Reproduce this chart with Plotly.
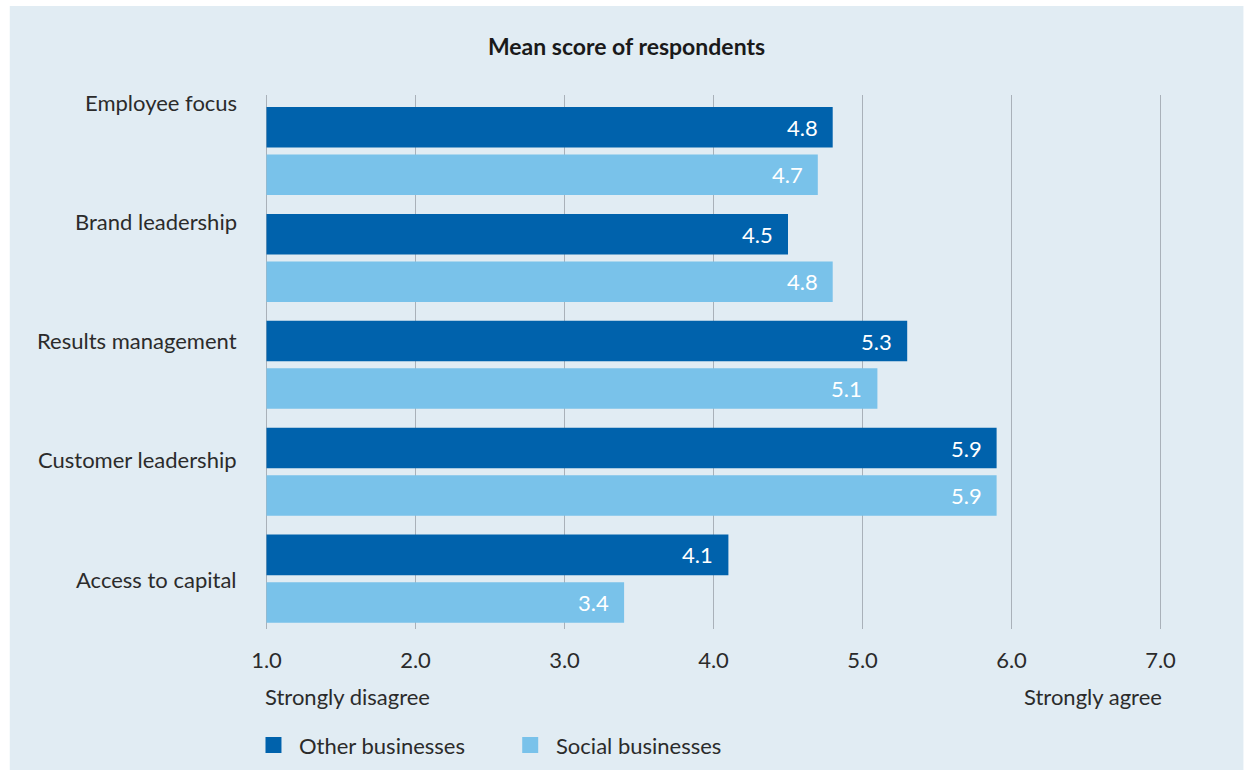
import plotly.graph_objects as go

# Survey dimensions (top to bottom) and mean scores on a 1-7 scale
categories = ["Employee focus", "Brand leadership", "Results management",
              "Customer leadership", "Access to capital"]
other_businesses = [4.8, 4.5, 5.3, 5.9, 4.1]
social_businesses = [4.7, 4.8, 5.1, 5.9, 3.4]
series_names = ["Other businesses", "Social businesses"]
x_ticks = [1, 2, 3, 4, 5, 6, 7]
x_tick_labels = ["1.0", "2.0", "3.0", "4.0", "5.0", "6.0", "7.0"]

DARK = "#0062ac"
LIGHT = "#79c2ea"
PANEL = "#e1ecf3"
GRID = "#a9b1b9"
TEXT = "#2b2b2b"
FONT = "Lato"

W, H = 1249, 770
PX_PER_UNIT = (1161 - 266) / 6
X_MIN, X_MAX = 0.99, 7.01
PLOT_L = 266 - (1 - X_MIN) * PX_PER_UNIT
PLOT_R = 1161 + (X_MAX - 7) * PX_PER_UNIT
PLOT_T, PLOT_B = 95, 629
PW = PLOT_R - PLOT_L
PH = PLOT_B - PLOT_T


def px_x(px):
    return (px - PLOT_L) / PW


def px_y(py):
    return (PLOT_B - py) / PH


pos = list(range(len(categories)))

fig = go.Figure()
fig.add_trace(go.Bar(y=pos, x=[v - 1 for v in other_businesses], base=1,
                     orientation="h", marker=dict(color=DARK, line_width=0),
                     name=series_names[0], showlegend=False,
                     hoverinfo="skip"))
fig.add_trace(go.Bar(y=pos, x=[v - 1 for v in social_businesses], base=1,
                     orientation="h", marker=dict(color=LIGHT, line_width=0),
                     name=series_names[1], showlegend=False,
                     hoverinfo="skip"))

annotations = []
shapes = [dict(type="rect", xref="paper", yref="paper",
               x0=px_x(9), x1=px_x(1244), y0=px_y(772), y1=px_y(6),
               fillcolor=PANEL, line_width=0, layer="below")]

# value labels inside the bar ends
bar_offset = 0.222
for i, (o, s) in enumerate(zip(other_businesses, social_businesses)):
    for v, off in [(o, -bar_offset), (s, bar_offset)]:
        annotations.append(dict(x=v, y=i + off, xref="x", yref="y",
                                text=f"{v:.1f}", showarrow=False,
                                xanchor="right", yanchor="middle", xshift=-13,
                                font=dict(family=FONT, size=22, color="white")))

# category labels
label_px = [102, 221, 340, 459, 579]
for cat, py in zip(categories, label_px):
    annotations.append(dict(x=px_x(238), y=px_y(py),
                            xref="paper", yref="paper", text=cat,
                            showarrow=False, xanchor="right", yanchor="middle",
                            font=dict(family=FONT, size=22, color=TEXT)))

# scale end labels
annotations.append(dict(x=px_x(263), y=px_y(696), xref="paper",
                        yref="paper", text="Strongly disagree", showarrow=False,
                        xanchor="left", yanchor="middle",
                        font=dict(family=FONT, size=22, color=TEXT)))
annotations.append(dict(x=px_x(1164), y=px_y(696), xref="paper",
                        yref="paper", text="Strongly agree", showarrow=False,
                        xanchor="right", yanchor="middle",
                        font=dict(family=FONT, size=22, color=TEXT)))

# legend: square swatch followed by series name
for name, color, sx in zip(series_names, [DARK, LIGHT], [265, 522]):
    shapes.append(dict(type="rect", xref="paper", yref="paper",
                       x0=px_x(sx), x1=px_x(sx + 16),
                       y0=px_y(753), y1=px_y(737),
                       fillcolor=color, line_width=0))
    annotations.append(dict(x=px_x(sx + 32), y=px_y(745), xref="paper",
                            yref="paper", text=name, showarrow=False,
                            xanchor="left", yanchor="middle",
                            font=dict(family=FONT, size=22, color=TEXT)))

fig.update_layout(
    width=W, height=H,
    margin=dict(l=PLOT_L, r=W - PLOT_R, t=PLOT_T, b=H - PLOT_B, pad=0),
    paper_bgcolor="white",
    plot_bgcolor="rgba(0,0,0,0)",
    showlegend=False,
    barmode="group", bargap=0.111, bargroupgap=0.147,
    title=dict(text="<b>Mean score of respondents</b>", x=626.5 / W,
               xref="container", xanchor="center", y=1 - 47 / H,
               yref="container", yanchor="middle",
               font=dict(family=FONT, size=23, color="#1a1a1a")),
    xaxis=dict(range=[X_MIN, X_MAX], tickvals=x_ticks, ticktext=x_tick_labels,
               showgrid=True, gridcolor=GRID, gridwidth=1.3,
               zeroline=False, showline=False, ticks="outside", ticklen=12,
               tickcolor="rgba(0,0,0,0)",
               tickfont=dict(family=FONT, size=22, color=TEXT),
               automargin=False, fixedrange=True),
    yaxis=dict(range=[4.471, -0.524], showticklabels=False, showgrid=False,
               zeroline=False, showline=False, automargin=False,
               fixedrange=True),
    annotations=annotations,
    shapes=shapes,
)

fig.write_html("out.html", config={"displayModeBar": False})
